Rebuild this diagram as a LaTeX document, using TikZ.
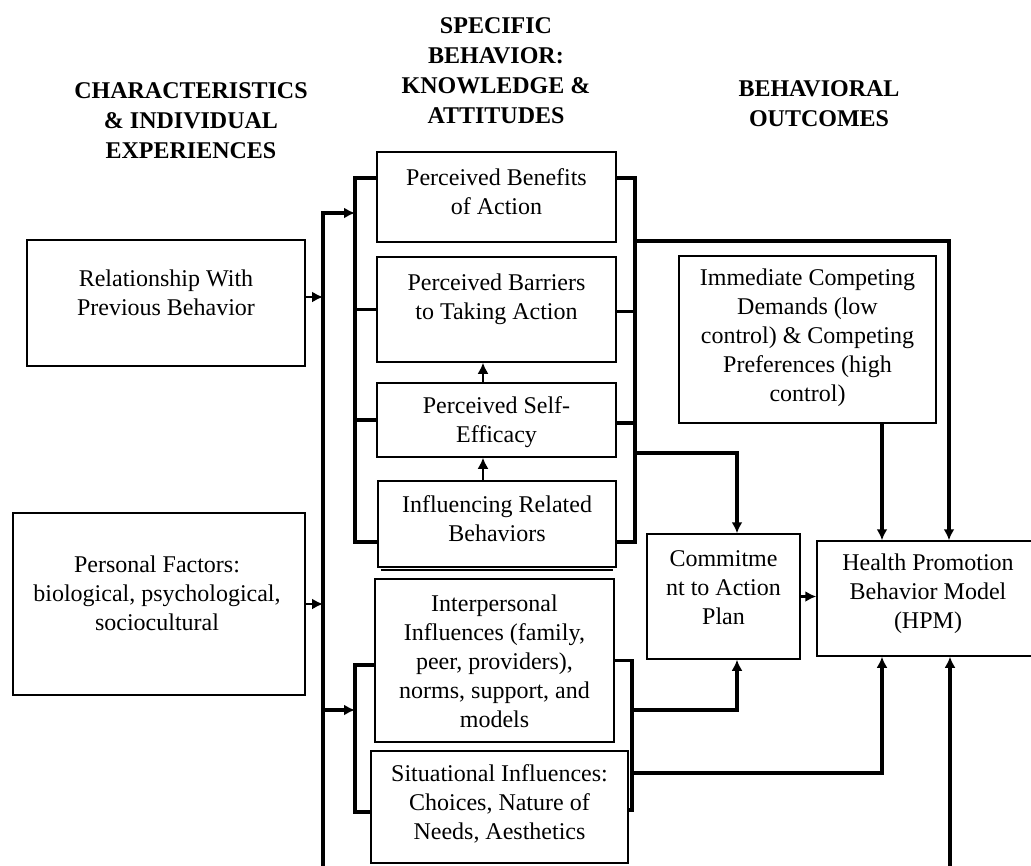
\documentclass[tikz,border=0pt]{standalone}
\usepackage{fontspec}
\setmainfont{Liberation Serif}
\usetikzlibrary{arrows.meta,calc}
\begin{document}
\begin{tikzpicture}[x=1pt,y=-1pt,
  box/.style={draw, line width=1.5pt, inner sep=0pt},
  txt/.style={align=center, font=\fontsize{24}{29}\selectfont, inner sep=0pt},
  head/.style={align=center, font=\fontsize{24}{30}\selectfont\bfseries, inner sep=0pt},
  wire/.style={line width=3.5pt},
  thinwire/.style={line width=2pt},
  tip/.style={-{Latex[length=11pt,width=11pt]}},
]
\useasboundingbox (0,0) rectangle (1031,865);

% headers
\node[head] (h1) at (191,121) {CHARACTERISTICS\\\& INDIVIDUAL\\EXPERIENCES};
\node[head] (h2) at (496,71) {SPECIFIC\\BEHAVIOR:\\KNOWLEDGE \&\\ATTITUDES};
\node[head] (h3) at (819,104) {BEHAVIORAL\\OUTCOMES};

% boxes
\node[box, minimum width=278pt, minimum height=126pt] (rel) at (166,303) {};
\node[txt] (relT) at (166,293) {Relationship With\\Previous Behavior};
\node[box, minimum width=292pt, minimum height=182pt] (pers) at (159,604) {};
\node[txt] (persT) at (157,593) {Personal Factors:\\biological, psychological,\\sociocultural};

\node[box, minimum width=239pt, minimum height=90pt] (ben) at (496.5,197) {};
\node[txt] (benT) at (496.5,192) {Perceived Benefits\\of Action};
\node[box, minimum width=239pt, minimum height=105pt] (bar) at (496.5,309.5) {};
\node[txt] (barT) at (496.5,299) {Perceived Barriers\\to Taking Action};
\node[box, minimum width=239pt, minimum height=74pt] (eff) at (496.5,420) {};
\node[txt] (effT) at (496.5,422) {Perceived Self-\\Efficacy};
\node[box, minimum width=238pt, minimum height=86pt] (inf) at (497,524) {};
\node[txt] (infT) at (497,519) {Influencing Related\\Behaviors};
\node[box, minimum width=239pt, minimum height=163pt] (inter) at (494.5,660.5) {};
\node[txt] (interT) at (494.5,661) {Interpersonal\\Influences (family,\\peer, providers),\\norms, support, and\\models};
\node[box, minimum width=257pt, minimum height=112pt] (sit) at (499.5,807) {};
\node[txt] (sitT) at (499.5,804) {Situational Influences:\\Choices, Nature of\\Needs, Aesthetics};

\node[box, minimum width=257pt, minimum height=167pt] (imm) at (807.5,339.5) {};
\node[txt] (immT) at (807.5,338) {Immediate Competing\\Demands (low\\control) \& Competing\\Preferences (high\\control)};
\node[box, minimum width=153pt, minimum height=125pt] (com) at (723.5,596.5) {};
\node[txt] (comT) at (723.5,588) {Commitme\\nt to Action\\Plan};
\node[box, minimum width=222pt, minimum height=115pt] (hpm) at (928,598.5) {};
\node[txt] (hpmT) at (928,594) {Health Promotion\\Behavior Model\\(HPM)};

% shadow line under Influencing box
\draw[line width=1.5pt] ([xshift=4pt,yshift=-2pt]inf.south west) -- ([xshift=-4pt,yshift=-2pt]inf.south east);

% main bus
\coordinate (busT) at (323,213);
\coordinate (busB) at (323,872);
\coordinate (lb) at (355,178);
\coordinate (rb) at (635,178);
\draw[wire, tip] (busB) -- (busT) -- (busT -| lb);
\coordinate (relE) at ([yshift=6pt]rel.east);
\draw[thinwire, tip] (relE) -- (relE -| busT);
\draw[thinwire, tip] (pers.east) -- (pers.east -| busT);

% upper left bracket
\coordinate (benW) at ([yshift=19pt]ben.west);
\coordinate (infW) at ([yshift=-18pt]inf.west);
\draw[wire] (benW) -- (benW -| lb) -- (infW -| lb) -- (infW);
\draw[wire] (bar.west) -- (bar.west -| lb);
\draw[wire] (eff.west) -- (eff.west -| lb);

% upper right bracket
\coordinate (benE) at ([yshift=19pt]ben.east);
\coordinate (infE) at ([yshift=-18pt]inf.east);
\draw[wire] (benE) -- (benE -| rb) -- (infE -| rb) -- (infE);
\coordinate (barE) at ([yshift=-2pt]bar.east);
\coordinate (effE) at ([yshift=-3pt]eff.east);
\draw[wire] (barE) -- (barE -| rb);
\draw[wire] (effE) -- (effE -| rb);

% vertical arrows between boxes
\coordinate (effN) at ([xshift=-13.5pt]eff.north);
\draw[thinwire, tip] (effN) -- (effN |- bar.south);
\coordinate (infN) at ([xshift=-14pt]inf.north);
\draw[thinwire, tip] (infN) -- (infN |- eff.south);

% outputs of upper bracket
\coordinate (o1) at (635,241);
\draw[wire, tip] (o1) -| ([xshift=21pt]hpm.north);
\coordinate (o2) at (635,453);
\draw[wire, tip] (o2) -| ([xshift=13.5pt]com.north);

% immediate -> HPM
\coordinate (immS) at ([xshift=74.5pt]imm.south);
\draw[wire, tip] (immS) -- (immS |- hpm.north);

% commitment -> HPM
\draw[line width=2.5pt, tip] (com.east) -- (com.east -| hpm.west);

% lower left bracket
\coordinate (lb2) at (355,665);
\coordinate (intW) at ([yshift=-4.5pt]inter.west);
\coordinate (sitW) at ([yshift=-5pt]sit.west);
\draw[wire] (intW) -- (intW -| lb2) -- (sitW -| lb2) -- (sitW);
\coordinate (b2) at (323,710);
\draw[wire, tip] (b2) -- (b2 -| lb2);

% lower right bracket
\coordinate (rb2) at (632,660);
\coordinate (sitE) at ([yshift=-3pt]sit.east);
\draw[wire] (inter.east) -- (inter.east -| rb2) -- (sitE -| rb2) -- (sitE);
\coordinate (o3) at (632,710);
\draw[wire, tip] (o3) -| ([xshift=13.5pt]com.south);
\coordinate (o4) at (632,773);
\draw[wire, tip] (o4) -| ([xshift=-46pt]hpm.south);

% bottom -> HPM
\coordinate (bot) at (950,872);
\draw[wire, tip] (bot) -- (bot |- hpm.south);
\end{tikzpicture}
\end{document}
